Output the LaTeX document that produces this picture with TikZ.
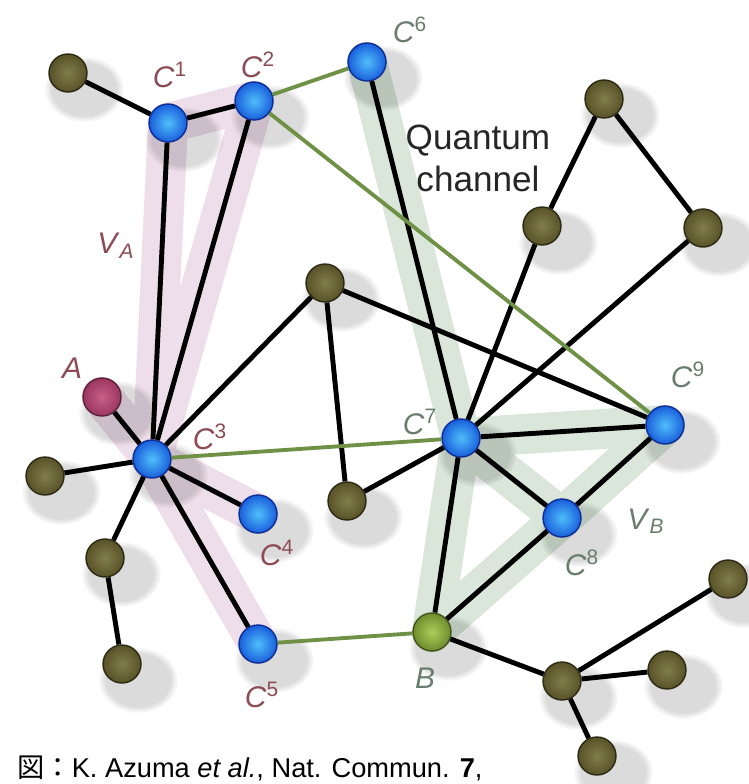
\documentclass[tikz,border=0pt]{standalone}
\usepackage{fontspec}
\setmainfont{Liberation Sans}
\newfontfamily\jpfont{Noto Sans CJK JP}
\usetikzlibrary{fadings}

\definecolor{blueIn}{RGB}{80,190,250}
\definecolor{blueOut}{RGB}{25,95,220}
\definecolor{blueRim}{RGB}{15,45,150}
\definecolor{oliveIn}{RGB}{130,125,75}
\definecolor{oliveOut}{RGB}{88,82,40}
\definecolor{oliveRim}{RGB}{45,42,20}
\definecolor{aliceIn}{RGB}{200,95,135}
\definecolor{aliceOut}{RGB}{155,55,95}
\definecolor{bobIn}{RGB}{175,205,90}
\definecolor{bobOut}{RGB}{110,140,45}
\definecolor{qgreen}{RGB}{110,145,70}
\definecolor{pinkband}{RGB}{238,222,233}
\definecolor{greenband}{RGB}{217,230,217}
\definecolor{labred}{RGB}{140,75,85}
\definecolor{labgreen}{RGB}{105,125,110}

\pgfdeclarelayer{bg}
\pgfsetlayers{bg,main}

\begin{document}
\begin{tikzpicture}[
		x=0.02cm, y=-0.02cm,
		ball/.style={
				circle,
				inner sep=0pt,
				minimum size=0.76cm,
				line width=0.8pt
			},
		cball/.style={ball, inner color=blueIn, outer color=blueOut, draw=blueRim},
		rball/.style={ball, inner color=oliveIn, outer color=oliveOut, draw=oliveRim},
		link/.style={line width=2.8pt},
		qlink/.style={line width=2.2pt, draw=qgreen},
		banda/.style={line width=0.8cm, draw=pinkband, line join=round, line cap=round},
		bandb/.style={line width=0.8cm, draw=greenband, line join=round, line cap=round},
		laba/.style={inner sep=0pt, text=labred, font=\fontsize{17}{20}\selectfont},
		labb/.style={inner sep=0pt, text=labgreen, font=\fontsize{17}{20}\selectfont},
		blob/.style={fill=black, opacity=0.14, path fading=circle with fuzzy edge 20 percent}
	]

	\useasboundingbox (0,0) rectangle (749,784);

	% network nodes
	\node[cball] (c1) at (168,123) {};
	\node[cball] (c2) at (254,101) {};
	\node[cball] (c3) at (152,459) {};
	\node[cball] (c4) at (258,514) {};
	\node[cball] (c5) at (258,644) {};
	\node[cball] (c6) at (367,62) {};
	\node[cball] (c7) at (461,438) {};
	\node[cball] (c8) at (562,518) {};
	\node[cball] (c9) at (665,425) {};
	\node[ball, inner color=aliceIn, outer color=aliceOut, draw=aliceOut!60!black] (a) at (102,397) {};
	\node[ball, inner color=bobIn, outer color=bobOut, draw=bobOut!60!black] (b) at (432,632) {};

	\node[rball] (r1) at (68,73) {};
	\node[rball] (r2) at (604,99) {};
	\node[rball] (r3) at (542,226) {};
	\node[rball] (r4) at (703,228) {};
	\node[rball] (r5) at (325,283) {};
	\node[rball] (r6) at (45,476) {};
	\node[rball] (r7) at (105,558) {};
	\node[rball] (r8) at (122,664) {};
	\node[rball] (r9) at (347,501) {};
	\node[rball] (r10) at (562,681) {};
	\node[rball] (r11) at (728,579) {};
	\node[rball] (r12) at (667,670) {};
	\node[rball] (r13) at (597,756) {};

	% sets and shadows
	\begin{pgfonlayer}{bg}
		\draw[banda] (c1.center) -- (c2.center) -- (c3.center) -- cycle;
		\draw[banda] (a.center) -- (c3.center) -- (c5.center);
		\draw[banda] (c3.center) -- (c4.center);
		\draw[bandb] (c6.center) -- (c7.center);
		\draw[bandb] (c7.center) -- (c9.center) -- (c8.center) -- (b.center) -- cycle;
		\draw[bandb] (c7.center) -- (c8.center);
		\foreach \n in {c1,c2,c3,c4,c5,c6,c7,c8,c9,a,b,r1,r2,r3,r4,r5,r6,r7,r8,r9,r10,r11,r12,r13}
		\fill[blob] ([shift={(16,16)}]\n.center) ellipse (0.8cm and 0.66cm);
	\end{pgfonlayer}

	% classical links
	\draw[link] (r1) -- (c1);
	\draw[link] (c1) -- (c2);
	\draw[link] (c1) -- (c3);
	\draw[link] (c2) -- (c3);
	\draw[link] (c6) -- (c7);
	\draw[link] (r2) -- (r3);
	\draw[link] (r2) -- (r4);
	\draw[link] (r3) -- (c7);
	\draw[link] (r4) -- (c7);
	\draw[link] (r5) -- (c3);
	\draw[link] (r5) -- (r9);
	\draw[link] (r5) -- (c9);
	\draw[link] (a) -- (c3);
	\draw[link] (c3) -- (r6);
	\draw[link] (c3) -- (r7);
	\draw[link] (r7) -- (r8);
	\draw[link] (c3) -- (c4);
	\draw[link] (c3) -- (c5);
	\draw[link] (r9) -- (c7);
	\draw[link] (c7) -- (c9);
	\draw[link] (c7) -- (c8);
	\draw[link] (c7) -- (b);
	\draw[link] (c8) -- (c9);
	\draw[link] (c8) -- (b);
	\draw[link] (b) -- (r10);
	\draw[link] (r10) -- (r11);
	\draw[link] (r10) -- (r12);
	\draw[link] (r10) -- (r13);

	% quantum channels
	\draw[qlink] (c2) -- (c6);
	\draw[qlink] (c2) -- (c9);
	\draw[qlink] (c3) -- (c7);
	\draw[qlink] (c5) -- (b);

	% labels
	\node[laba] (c1lab) at (170,75) {\textit{C}\textsuperscript{1}};
	\node[laba] (c2lab) at (258,65) {\textit{C}\textsuperscript{2}};
	\node[laba] (c3lab) at (210,437) {\textit{C}\textsuperscript{3}};
	\node[laba] (c4lab) at (277,553) {\textit{C}\textsuperscript{4}};
	\node[laba] (c5lab) at (262,695) {\textit{C}\textsuperscript{5}};
	\node[laba] (alab) at (72,368) {\textit{A}};
	\node[laba] (valab) at (116,246) {\textit{V}\textsubscript{\textit{A}}};
	\node[labb] (c6lab) at (410,30) {\textit{C}\textsuperscript{6}};
	\node[labb] (c7lab) at (420,422) {\textit{C}\textsuperscript{7}};
	\node[labb] (c8lab) at (582,563) {\textit{C}\textsuperscript{8}};
	\node[labb] (c9lab) at (688,375) {\textit{C}\textsuperscript{9}};
	\node[labb] (vblab) at (646,521) {\textit{V}\textsubscript{\textit{B}}};
	\node[labb] (blab) at (425,678) {\textit{B}};

	\node[align=center, inner sep=0pt, text=black!85,
		font=\fontsize{20}{24}\selectfont] (qchan) at (478,158)
	{Quantum\\channel};

	\node[anchor=base west, inner sep=0pt,
		font=\fontsize{15.5}{18}\selectfont] (cite) at (17,777)
	{{\jpfont 図：}K. Azuma \textit{et al.}, Nat. Commun. \textbf{7},};

\end{tikzpicture}
\end{document}
